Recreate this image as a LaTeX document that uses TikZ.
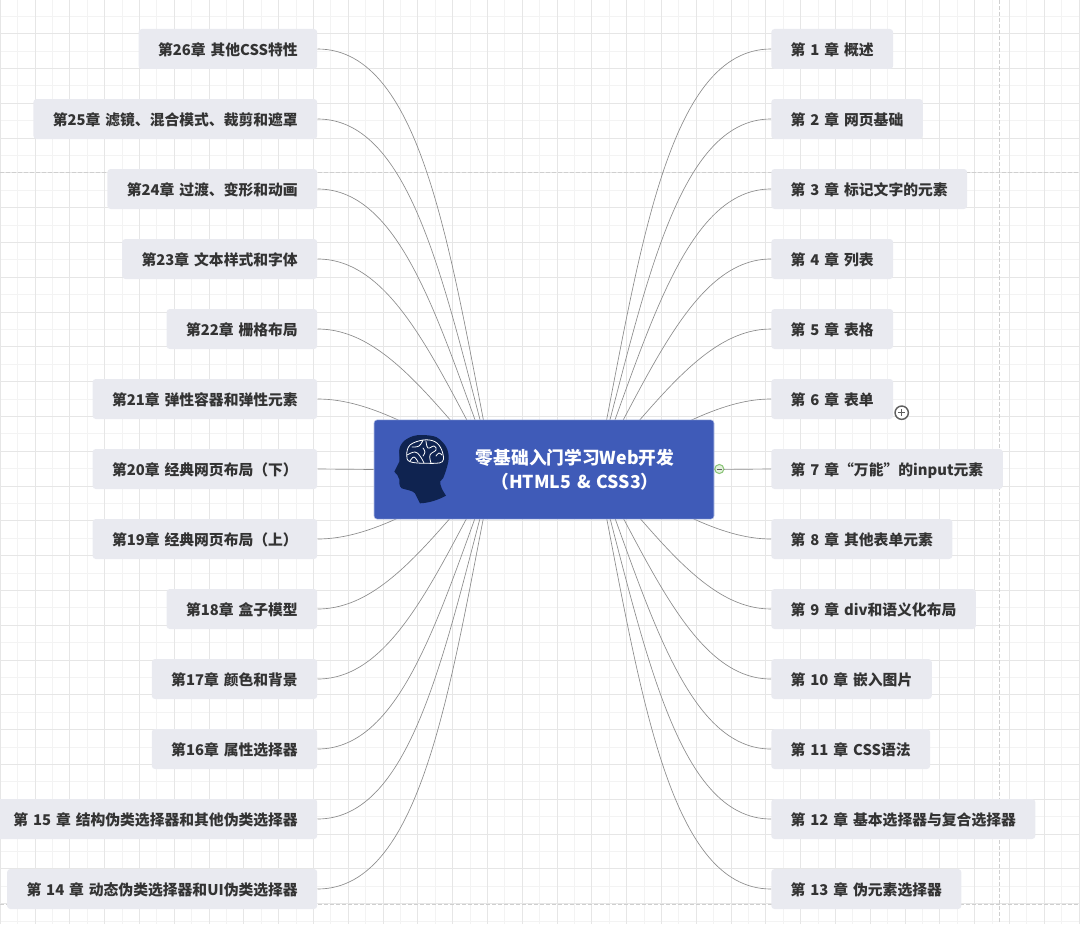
\documentclass[tikz,border=0pt]{standalone}
\usepackage{fontspec}
\setmainfont{Noto Sans CJK SC}[WordSpace=1.45]
\usetikzlibrary{arrows.meta,positioning,calc}
\definecolor{rootblue}{HTML}{3F5BB8}
\definecolor{rootedge}{HTML}{B9C4E6}
\definecolor{headink}{HTML}{0F2350}
\definecolor{chapfill}{HTML}{E9EAF0}
\definecolor{chapink}{HTML}{333333}
\definecolor{gridmajor}{HTML}{E6E6E6}
\definecolor{gridminor}{HTML}{F3F3F3}
\definecolor{pageedge}{HTML}{CFCFCF}
\definecolor{branchc}{HTML}{8C8C8C}
\definecolor{foldgreen}{HTML}{8CC57A}
\definecolor{foldlt}{HTML}{E4F2DD}
\definecolor{foldgray}{HTML}{5F5F5F}
\tikzset{
  chap/.style     = {fill=chapfill, rounded corners=2.4pt, minimum height=30pt,
                     inner xsep=14.6pt, inner ysep=0pt, text=chapink,
                     text height=10.5pt, text depth=0.4pt,
                     font=\fontsize{11.1}{12}\selectfont\bfseries},
  chapr/.style    = {chap, anchor=west},
  chapl/.style    = {chap, anchor=east},
  branch/.style   = {draw=branchc, line width=0.5pt},
  rootbox/.style  = {fill=rootblue, draw=rootedge, line width=0.4pt,
                     rounded corners=2.4pt, minimum width=255pt, minimum height=74.5pt,
                     inner sep=0pt},
  roottxt/.style  = {text=white, align=center, inner sep=0pt,
                     font=\fontsize{13.3}{18}\selectfont\bfseries},
  gmajor/.style   = {draw=gridmajor, line width=0.95pt},
  gminor/.style   = {draw=gridminor, line width=0.95pt},
  pagedash/.style = {draw=pageedge, line width=0.6pt, dash pattern=on 3pt off 1.5pt},
  brainln/.style  = {draw=white, line width=0.6pt, line cap=round, line join=round},
}
\begin{document}
\begin{tikzpicture}[x=0.75pt, y=-0.75pt]
    \useasboundingbox (0,0) rectangle (1080,924);
    % paper grid
    \foreach \k in {0,...,31}{%
      \pgfmathsetmacro{\gx}{round(34.8*\k+17.1)+0.5}
      \draw[gminor] (\gx,0) -- (\gx,924);}
    \foreach \k in {-1,...,26}{%
      \pgfmathsetmacro{\gy}{round(34.8*\k+50.6)+0.5}
      \draw[gminor] (0,\gy) -- (1080,\gy);}
    \foreach \k in {0,...,31}{%
      \pgfmathsetmacro{\gx}{round(34.8*\k-0.3)+0.5}
      \draw[gmajor] (\gx,0) -- (\gx,924);}
    \foreach \k in {-1,...,26}{%
      \pgfmathsetmacro{\gy}{round(34.8*\k+33.2)+0.5}
      \draw[gmajor] (0,\gy) -- (1080,\gy);}
    \draw[pagedash] (0,172.5) -- (1080,172.5);
    \draw[pagedash] (0,904.5) -- (1080,904.5);
    \draw[pagedash] (999.5,0) -- (999.5,924);
    \coordinate (hubr) at (597,469);
    \coordinate (hubl) at (493,469);
    % right hand chapters
    \foreach \n/\y/\txt in {1/49/第 1 章 概述, 2/119/第 2 章 网页基础,
                            3/189/第 3 章 标记文字的元素, 4/259/第 4 章 列表,
                            5/329/第 5 章 表格, 6/399/第 6 章 表单,
                            8/539/第 8 章 其他表单元素, 9/609/第 9 章 div和语义化布局,
                            10/679/第 10 章 嵌入图片, 11/749/第 11 章 CSS语法,
                            12/819/第 12 章 基本选择器与复合选择器, 13/889/第 13 章 伪元素选择器}{%
      \pgfmathsetmacro{\xc}{84+0.149*(420-abs(469-\y))}
      \node[chapr] (ch\n) at (771,\y) {\txt};
      \draw[branch] (hubr) .. controls ({597+0.5*\xc},{(469+\y)/2}) and ({582+\xc},\y) .. (ch\n.west);}
    % left hand chapters
    \foreach \n/\y/\txt in {26/49/第26章 其他CSS特性, 25/119/第25章 滤镜、混合模式、裁剪和遮罩,
                            24/189/第24章 过渡、变形和动画, 23/259/第23章 文本样式和字体,
                            22/329/第22章 栅格布局, 21/399/第21章 弹性容器和弹性元素,
                            19/539/第19章 经典网页布局（上）, 18/609/第18章 盒子模型,
                            17/679/第17章 颜色和背景, 16/749/第16章 属性选择器,
                            15/819/第 15 章 结构伪类选择器和其他伪类选择器,
                            14/889/第 14 章 动态伪类选择器和UI伪类选择器}{%
      \pgfmathsetmacro{\xc}{84+0.149*(420-abs(469-\y))}
      \node[chapl] (ch\n) at (317.5,\y) {\txt};
      \draw[branch] (hubl) .. controls ({493-0.5*\xc},{(469+\y)/2}) and ({508-\xc},\y) .. (ch\n.east);}
    \node[chapr] (ch7) at (771,469) {第 7 章“万能”的input元素};
    \node[chapl] (ch20) at (317.5,469) {第20章 经典网页布局（下）};
    % central topic
    \node[rootbox] (root) at (544,469.5) {};
    \draw[branch] (ch20.east) -- (root.west);
    \draw[branch] (root.east) -- (ch7.west);
    \node[roottxt] (title) at (575,470) {零基础入门学习Web开发\\（HTML5 \& CSS3）};
    % head icon
    \fill[headink] plot[smooth cycle, tension=0.55] coordinates {
      (399.3,451.7) (403.3,441.7) (413.3,436) (423.3,435) (436.7,437.3)
      (446,446.7) (448.7,458.3) (445,473.3) (440,481.7) (425,486) (405,470)};
    \fill[headink, line join=round] (440,480) .. controls (440,487) and (443,491) .. (446,495.7)
      .. controls (438,500) and (429,503) .. (420,503.3) -- (415,493.3)
      .. controls (412,490) and (406,490) .. (401.7,488.3)
      .. controls (399,486) and (400,484) .. (399.3,483.3) -- (399.3,479.3) -- (397.3,475)
      -- (394.3,471.7) -- (399.3,461.7) -- (399.3,450) -- (430,450) -- cycle;
    \draw[brainln] plot[smooth cycle, tension=0.6] coordinates {
      (406.7,455) (410,445) (423.3,440) (435,441.7) (441.7,450) (442.3,461.7)
      (426.7,463.3) (410,461.7)};
    \draw[brainln] plot[smooth, tension=0.7] coordinates {(423,440) (419,446) (412,447)};
    \draw[brainln] plot[smooth, tension=0.7] coordinates {(407,455) (415,452) (420,456) (424,463)};
    \draw[brainln] plot[smooth, tension=0.7] coordinates {(426,441) (428,448) (434,446) (436,450) (430,455) (431,463)};
    \draw[brainln] plot[smooth, tension=0.7] coordinates {(436,456) (439,453) (442,455)};
    \draw[brainln] plot[smooth, tension=0.7] coordinates {(410,461) (414,457) (418,462)};
    \draw[brainln] plot[smooth, tension=0.7] coordinates {(423,448) (425,452) (423,456)};
    % fold markers
    \node[circle, draw=foldgreen, fill=foldlt, line width=0.8pt, minimum size=6.8pt, inner sep=0pt] (fold7) at (719.3,469) {};
    \draw[foldgray, line width=0.5pt] (716.8,469) -- (721.8,469);
    \node[circle, draw=foldgray, fill=white, line width=1.1pt, minimum size=10pt, inner sep=0pt] (fold6) at (901.7,412.7) {};
    \draw[foldgray, line width=1.1pt] (898,412.7) -- (905.4,412.7) (901.7,409) -- (901.7,416.4);
\end{tikzpicture}
\end{document}
